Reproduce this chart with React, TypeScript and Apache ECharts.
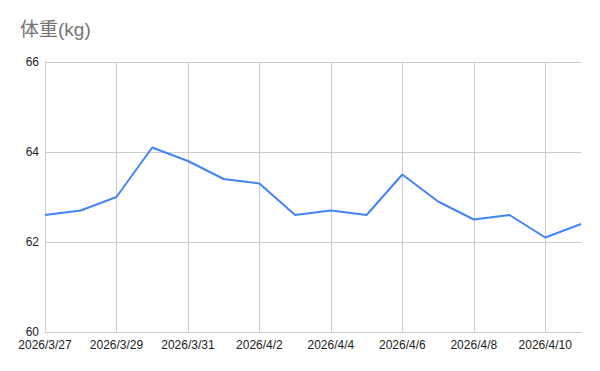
import React, { useEffect, useRef } from "react";
import * as echarts from "echarts";

const dates = [
  "2026/3/27", "2026/3/28", "2026/3/29", "2026/3/30", "2026/3/31", "2026/4/1",
  "2026/4/2", "2026/4/3", "2026/4/4", "2026/4/5", "2026/4/6", "2026/4/7",
  "2026/4/8", "2026/4/9", "2026/4/10", "2026/4/11",
];
const weights = [
  62.6, 62.7, 63.0, 64.1, 63.8, 63.4, 63.3, 62.6, 62.7, 62.6, 63.5, 62.9,
  62.5, 62.6, 62.1, 62.4,
];
const title = "体重(kg)";

export default function App() {
  const ref = useRef<HTMLDivElement>(null);
  useEffect(() => {
    if (!ref.current) return;
    const chart = echarts.init(ref.current, null, { renderer: "svg" });
    chart.setOption({
      animation: false,
      backgroundColor: "#ffffff",
      title: {
        text: title,
        left: 20,
        top: 20,
        padding: 0,
        textStyle: {
          fontSize: 19,
          fontWeight: "normal",
          color: "#757575",
          fontFamily: "Arial, 'Liberation Sans', 'Noto Sans CJK JP', sans-serif",
        },
      },
      grid: { left: 45, right: 19, top: 62, bottom: 39 },
      xAxis: {
        type: "category",
        data: dates,
        boundaryGap: false,
        axisLine: { show: true, lineStyle: { color: "#cccccc" } },
        axisTick: { show: false },
        axisLabel: {
          interval: 1,
          color: "#222222",
          fontSize: 12,
          fontFamily: "Arial, 'Liberation Sans', sans-serif",
          margin: 7,
        },
        splitLine: { show: true, interval: 1, lineStyle: { color: "#cccccc" } },
      },
      yAxis: {
        type: "value",
        min: 60,
        max: 66,
        interval: 2,
        axisLine: { show: true, lineStyle: { color: "#cccccc" } },
        axisTick: { show: false },
        axisLabel: {
          color: "#222222",
          fontSize: 12,
          fontFamily: "Arial, 'Liberation Sans', sans-serif",
          margin: 6,
        },
        splitLine: { show: true, lineStyle: { color: "#cccccc" } },
      },
      series: [
        {
          type: "line",
          data: weights,
          showSymbol: false,
          lineStyle: { color: "#4285F4", width: 2 },
          itemStyle: { color: "#4285F4" },
        },
      ],
    });
    return () => chart.dispose();
  }, []);
  return <div ref={ref} style={{ width: 600, height: 371, position: "absolute", left: 0, top: 0 }} />;
}
